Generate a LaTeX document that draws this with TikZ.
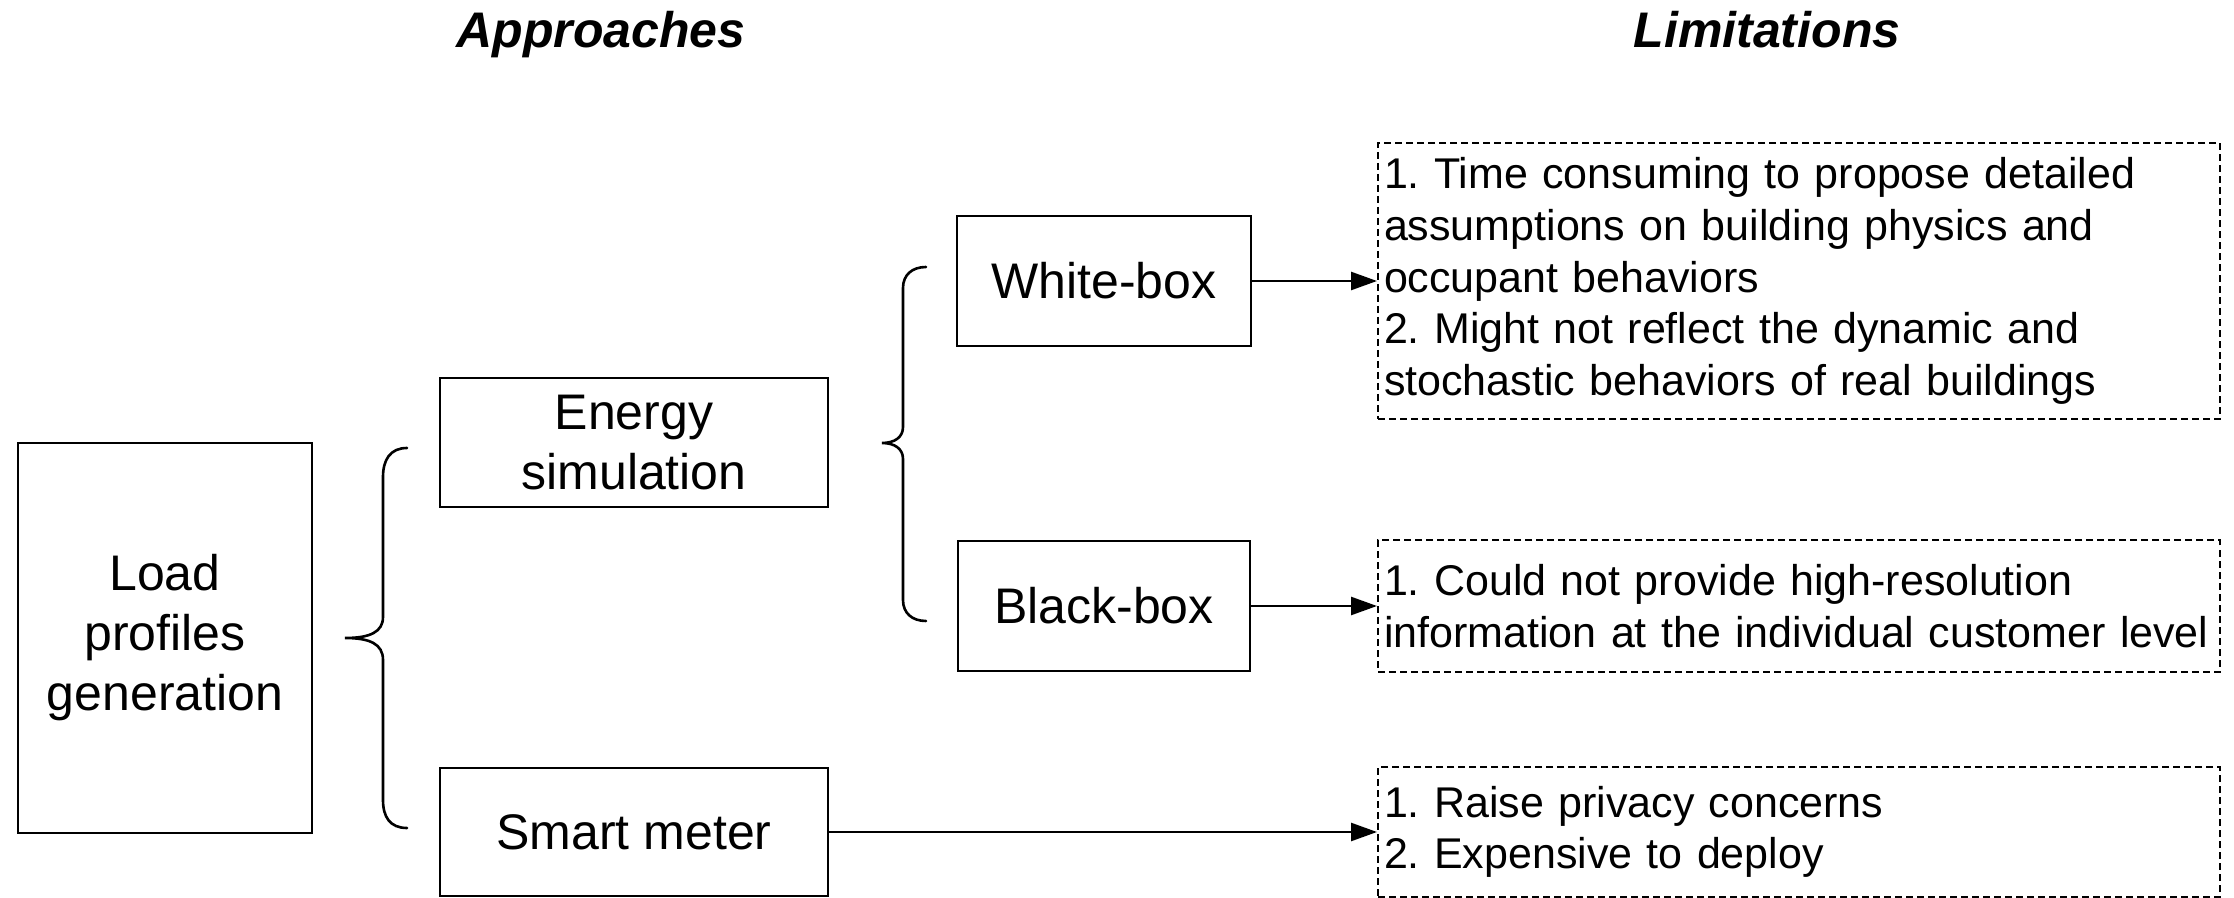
\documentclass[tikz,border=0pt]{standalone}
\usepackage{fontspec}
\setmainfont{Liberation Sans}
\frenchspacing
\usetikzlibrary{arrows.meta}
\begin{document}
\begin{tikzpicture}[x=0.5pt,y=-0.5pt,
  box/.style={draw, line width=1.3pt, font=\fontsize{25}{30}\selectfont, align=center, inner sep=0pt},
  limbox/.style={draw, dash pattern=on 3.5pt off 2pt, line width=1pt, minimum width=421pt,
    text width=415pt, align=left, inner xsep=3pt, inner ysep=0pt, font=\fontsize{21.5}{25.8}\selectfont},
  head/.style={font=\fontsize{25}{30}\selectfont\bfseries\itshape, anchor=base},
  arr/.style={-{Triangle[length=13pt,width=9pt]}, line width=1.3pt},
  brace/.style={line width=1.3pt, line cap=round}]
\useasboundingbox (0,0) rectangle (2234,898);

% column headings
\node[head] (hApp) at (601,48) {Approaches};
\node[head] (hLim) at (1767,48) {Limitations};

% approach boxes
\node[box, minimum width=147pt, minimum height=195pt] (load) at (165,638) {Load\\profiles\\generation};
\node[box, minimum width=194pt, minimum height=64.5pt] (energy) at (634,442.5) {Energy\\simulation};
\node[box, minimum width=194pt, minimum height=64pt] (smart) at (634,832) {Smart meter};
\node[box, minimum width=147pt, minimum height=65pt] (white) at (1104,281) {White-box};
\node[box, minimum width=146pt, minimum height=65pt] (black) at (1104,606) {Black-box};

% limitation boxes
\node[limbox, minimum height=138pt] (lim1) at (1799,281) {1. Time consuming to propose detailed\\assumptions on building physics and\\occupant behaviors\\2. Might not reflect the dynamic and\\stochastic behaviors of real buildings};
\node[limbox, minimum height=65.5pt] (lim2) at (1799,606) {1. Could not provide high-resolution\\information at the individual customer level};
\node[limbox, minimum height=65pt] (lim3) at (1799,832) {1. Raise privacy concerns\\2. Expensive to deploy};

% arrows
\draw[arr] (white.east) -- (lim1.west);
\draw[arr] (black.east) -- (lim2.west);
\draw[arr] (smart.east) -- (lim3.west);

% braces
\draw[brace] (407,448) .. controls (390,448) and (383,460) .. (383,477) -- (383,617)
  .. controls (383,632) and (370,638) .. (345,638)
  .. controls (370,638) and (383,644) .. (383,660) -- (383,800)
  .. controls (383,817) and (390,828) .. (407,828);
\draw[brace] (926,267) .. controls (912,267) and (903,275) .. (903,288) -- (903,427)
  .. controls (903,437) and (895,443) .. (882,443)
  .. controls (895,443) and (903,449) .. (903,459) -- (903,600)
  .. controls (903,613) and (912,621) .. (926,621);
\end{tikzpicture}
\end{document}
